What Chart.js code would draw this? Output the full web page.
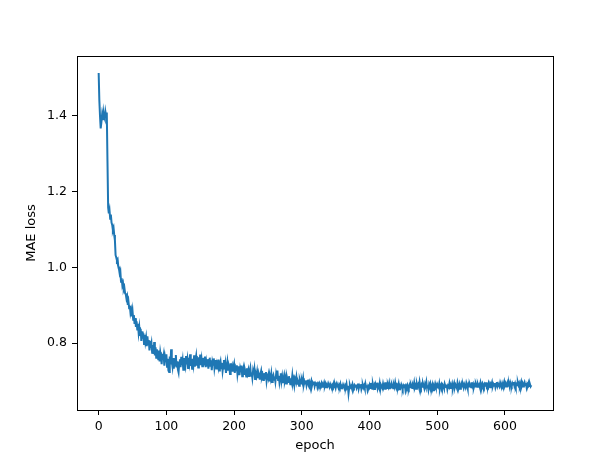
<!DOCTYPE html>
<html>
<head>
<meta charset="utf-8">
<script src="https://cdn.jsdelivr.net/npm/chart.js@4/dist/chart.umd.min.js"></script>
<style>
  html, body { margin: 0; padding: 0; background: #fff; }
  #chart { display: block; }
</style>
</head>
<body>
<canvas id="chart" width="614" height="461"></canvas>
<script>
  // loss per epoch
  var loss = [
    1.512, 1.440, 1.398, 1.366, 1.382, 1.401, 1.388, 1.409, 1.396, 1.391, 1.410, 1.399, 1.408, 1.280, 1.158, 1.142, 1.151, 1.128, 1.139, 1.118,
    1.112, 1.098, 1.104, 1.085, 1.071, 1.032, 1.026, 1.018, 1.021, 1.002, 0.996, 0.984, 0.990, 0.962, 0.971, 0.952, 0.958, 0.941, 0.946, 0.932,
    0.929, 0.918, 0.924, 0.901, 0.910, 0.892, 0.899, 0.880, 0.888, 0.871, 0.885, 0.862, 0.874, 0.851, 0.866, 0.843, 0.858, 0.836, 0.851, 0.828,
    0.842, 0.819, 0.838, 0.806, 0.831, 0.812, 0.826, 0.798, 0.822, 0.804, 0.815, 0.792, 0.818, 0.797, 0.808, 0.781, 0.806, 0.788, 0.799, 0.775,
    0.795, 0.772, 0.803, 0.768, 0.789, 0.762, 0.784, 0.771, 0.758, 0.781, 0.752, 0.776, 0.764, 0.745, 0.772, 0.756, 0.768, 0.741, 0.762, 0.750,
    0.771, 0.738, 0.759, 0.728, 0.724, 0.765, 0.744, 0.784, 0.752, 0.739, 0.761, 0.733, 0.757, 0.741, 0.769, 0.736, 0.752, 0.731, 0.723, 0.748,
    0.758, 0.737, 0.764, 0.742, 0.755, 0.730, 0.761, 0.747, 0.739, 0.766, 0.744, 0.757, 0.735, 0.762, 0.749, 0.771, 0.740, 0.756, 0.733, 0.759,
    0.745, 0.768, 0.738, 0.754, 0.766, 0.741, 0.759, 0.736, 0.763, 0.748, 0.770, 0.742, 0.757, 0.739, 0.761, 0.750, 0.744, 0.765, 0.737, 0.752,
    0.741, 0.758, 0.733, 0.749, 0.762, 0.738, 0.755, 0.729, 0.751, 0.743, 0.760, 0.735, 0.748, 0.756, 0.731, 0.746, 0.739, 0.757, 0.728, 0.744,
    0.752, 0.734, 0.748, 0.727, 0.741, 0.756, 0.731, 0.745, 0.722, 0.739, 0.751, 0.728, 0.743, 0.736, 0.719, 0.747, 0.733, 0.740, 0.725, 0.738,
    0.746, 0.722, 0.735, 0.729, 0.742, 0.718, 0.731, 0.739, 0.716, 0.733, 0.724, 0.741, 0.713, 0.728, 0.736, 0.719, 0.730, 0.722, 0.712, 0.734,
    0.721, 0.729, 0.711, 0.726, 0.735, 0.714, 0.723, 0.709, 0.727, 0.718, 0.731, 0.706, 0.720, 0.713, 0.725, 0.708, 0.722, 0.715, 0.704, 0.719,
    0.727, 0.710, 0.716, 0.703, 0.721, 0.712, 0.707, 0.724, 0.701, 0.714, 0.709, 0.718, 0.702, 0.713, 0.705, 0.719, 0.698, 0.711, 0.716, 0.704,
    0.712, 0.699, 0.717, 0.706, 0.728, 0.703, 0.714, 0.697, 0.709, 0.721, 0.700, 0.712, 0.695, 0.707, 0.716, 0.701, 0.709, 0.694, 0.711, 0.703,
    0.698, 0.713, 0.702, 0.692, 0.708, 0.699, 0.715, 0.696, 0.704, 0.690, 0.706, 0.700, 0.711, 0.693, 0.702, 0.697, 0.688, 0.705, 0.699, 0.694,
    0.703, 0.696, 0.708, 0.691, 0.699, 0.694, 0.702, 0.689, 0.697, 0.704, 0.692, 0.698, 0.690, 0.695, 0.701, 0.688, 0.696, 0.692, 0.699, 0.687,
    0.694, 0.690, 0.697, 0.686, 0.693, 0.689, 0.695, 0.691, 0.688, 0.694, 0.685, 0.692, 0.689, 0.696, 0.687, 0.693, 0.684, 0.690, 0.687, 0.694,
    0.689, 0.685, 0.692, 0.687, 0.683, 0.690, 0.686, 0.693, 0.684, 0.689, 0.682, 0.691, 0.686, 0.688, 0.683, 0.690, 0.685, 0.692, 0.681, 0.687,
    0.684, 0.691, 0.686, 0.682, 0.689, 0.685, 0.693, 0.680, 0.688, 0.668, 0.683, 0.690, 0.684, 0.687, 0.681, 0.692, 0.686, 0.683, 0.689, 0.685,
    0.691, 0.682, 0.687, 0.694, 0.680, 0.688, 0.684, 0.692, 0.679, 0.686, 0.690, 0.683, 0.688, 0.681, 0.693, 0.685, 0.689, 0.678, 0.687, 0.684,
    0.690, 0.682, 0.695, 0.686, 0.680, 0.692, 0.684, 0.689, 0.677, 0.691, 0.685, 0.696, 0.681, 0.688, 0.683, 0.694, 0.679, 0.690, 0.686, 0.682,
    0.693, 0.684, 0.689, 0.680, 0.697, 0.686, 0.682, 0.691, 0.685, 0.694, 0.679, 0.688, 0.683, 0.692, 0.687, 0.681, 0.690, 0.684, 0.696, 0.686,
    0.681, 0.689, 0.685, 0.693, 0.679, 0.687, 0.683, 0.691, 0.686, 0.680, 0.688, 0.684, 0.692, 0.678, 0.687, 0.683, 0.690, 0.685, 0.681, 0.689,
    0.684, 0.692, 0.687, 0.682, 0.690, 0.685, 0.696, 0.683, 0.688, 0.680, 0.693, 0.686, 0.691, 0.684, 0.698, 0.687, 0.682, 0.690, 0.685, 0.694,
    0.688, 0.681, 0.692, 0.686, 0.697, 0.683, 0.689, 0.678, 0.691, 0.685, 0.694, 0.687, 0.682, 0.690, 0.676, 0.688, 0.684, 0.693, 0.686, 0.690,
    0.683, 0.689, 0.685, 0.694, 0.680, 0.688, 0.692, 0.684, 0.690, 0.686, 0.681, 0.693, 0.687, 0.684, 0.691, 0.679, 0.688, 0.685, 0.694, 0.682,
    0.690, 0.686, 0.693, 0.681, 0.689, 0.695, 0.684, 0.691, 0.687, 0.682, 0.696, 0.688, 0.685, 0.692, 0.680, 0.689, 0.694, 0.686, 0.690, 0.683,
    0.692, 0.687, 0.684, 0.695, 0.689, 0.681, 0.691, 0.686, 0.693, 0.688, 0.684, 0.697, 0.687, 0.692, 0.683, 0.690, 0.686, 0.694, 0.689, 0.685,
    0.693, 0.688, 0.691, 0.684, 0.696, 0.689, 0.686, 0.694, 0.690, 0.685, 0.692, 0.688, 0.697, 0.686, 0.691, 0.687, 0.695, 0.689, 0.684, 0.693,
    0.690, 0.697, 0.686, 0.692, 0.688, 0.695, 0.684, 0.691, 0.698, 0.687, 0.693, 0.689, 0.686, 0.696, 0.690, 0.685, 0.694, 0.688, 0.692, 0.699,
    0.689, 0.694, 0.686, 0.692, 0.697, 0.688, 0.693, 0.685, 0.696, 0.690, 0.687, 0.695, 0.691, 0.698, 0.688, 0.694, 0.686, 0.692, 0.689, 0.697,
    0.690, 0.695, 0.687, 0.693, 0.699, 0.688, 0.694, 0.686, 0.692, 0.697, 0.689, 0.695, 0.684, 0.693, 0.690, 0.696, 0.687, 0.692, 0.686, 0.689
  ];
  var xTicks = [0, 100, 200, 300, 400, 500, 600];
  var yTicks = [0.8, 1.0, 1.2, 1.4];

  var points = [];
  for (var i = 0; i < loss.length; i++) {
    points.push({x: i, y: loss[i]});
  }

  var tickFont = {family: 'DejaVu Sans', size: 12.5};
  var titleFont = {family: 'DejaVu Sans', size: 13};

  // matplotlib style box round the plot area
  var frame = {
    id: 'frame',
    afterDraw: function(chart) {
      var a = chart.chartArea, ctx = chart.ctx;
      ctx.save();
      ctx.strokeStyle = '#000';
      ctx.lineWidth = 1;
      ctx.strokeRect(Math.round(a.left) + 0.5, Math.round(a.top) + 0.5,
        Math.round(a.right - a.left), Math.round(a.bottom - a.top));
      ctx.restore();
    }
  };

  var config = {
    type: 'line',
    data: {
      datasets: [{
        data: points,
        borderColor: '#1f77b4',
        borderWidth: 2,
        pointRadius: 0,
        tension: 0,
        fill: false
      }]
    },
    options: {
      responsive: false,
      animation: false,
      layout: {padding: {left: 0, top: 56, right: 61, bottom: 0}},
      plugins: {legend: {display: false}, tooltip: {enabled: false}},
      scales: {
        x: {
          type: 'linear',
          min: -32,
          max: 671,
          afterBuildTicks: function(scale) {
            scale.ticks = xTicks.map(function(v) { return {value: v}; });
          },
          afterFit: function(scale) { scale.height = 51; },
          grid: {drawOnChartArea: false, tickLength: 5, color: '#000', tickColor: '#000'},
          border: {display: false},
          ticks: {font: tickFont, color: '#000', padding: 4, maxRotation: 0,
            callback: function(v) { return String(v); }},
          title: {display: true, text: 'epoch', font: titleFont, color: '#000', padding: {top: 0, bottom: 8}}
        },
        y: {
          type: 'linear',
          min: 0.624,
          max: 1.557,
          afterBuildTicks: function(scale) {
            scale.ticks = yTicks.map(function(v) { return {value: v}; });
          },
          afterFit: function(scale) { scale.width = 77; },
          grid: {drawOnChartArea: false, tickLength: 5, color: '#000', tickColor: '#000'},
          border: {display: false},
          ticks: {font: tickFont, color: '#000', padding: 5,
            callback: function(v) { return v.toFixed(1); }},
          title: {display: true, text: 'MAE loss', font: titleFont, color: '#000', padding: {top: 24, bottom: 0}}
        }
      }
    },
    plugins: [frame]
  };

  window.onload = function() {
    var ctx = document.getElementById('chart').getContext('2d');
    window.lossChart = new Chart(ctx, config);
  };
</script>
</body>
</html>
